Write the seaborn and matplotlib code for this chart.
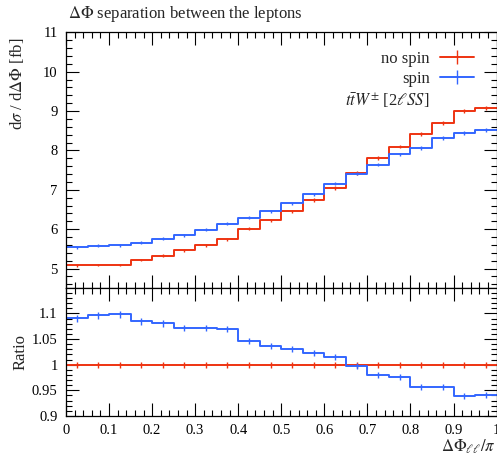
import numpy as np
import pandas as pd
import matplotlib
matplotlib.use("Agg")
import matplotlib.pyplot as plt
import seaborn as sns
from matplotlib.ticker import MultipleLocator, FuncFormatter
from matplotlib.lines import Line2D

# Binning in Delta Phi_ll / pi
bin_edges = [0.00, 0.05, 0.10, 0.15, 0.20, 0.25, 0.30, 0.35, 0.40, 0.45, 0.50,
             0.55, 0.60, 0.65, 0.70, 0.75, 0.80, 0.85, 0.90, 0.95, 1.00]

# d sigma / d Delta Phi [fb]
no_spin = [5.08, 5.09, 5.09, 5.22, 5.33, 5.46, 5.59, 5.74, 6.01, 6.23,
           6.46, 6.74, 7.05, 7.43, 7.80, 8.10, 8.43, 8.69, 9.00, 9.07]
spin = [5.54, 5.58, 5.59, 5.66, 5.76, 5.85, 5.99, 6.14, 6.29, 6.46,
        6.66, 6.89, 7.16, 7.41, 7.64, 7.90, 8.07, 8.31, 8.45, 8.53]

# relative statistical uncertainties per bin
rel_err_no_spin = [0.006, 0.006, 0.006, 0.006, 0.006, 0.006, 0.006, 0.006, 0.006, 0.006,
                   0.006, 0.006, 0.006, 0.006, 0.006, 0.006, 0.006, 0.006, 0.006, 0.006]
rel_err_spin = [0.006, 0.006, 0.006, 0.006, 0.006, 0.006, 0.006, 0.006, 0.006, 0.006,
                0.006, 0.006, 0.006, 0.006, 0.006, 0.006, 0.006, 0.006, 0.006, 0.006]

series_labels = ["no spin", "spin"]
process_label = r"$t\bar{t}W^{\pm}$ [2$\ell SS$]"
title_text = r"$\Delta\Phi$ separation between the leptons"

RED = "#EE3311"
BLUE = "#3366FF"

sns.set_style("ticks")
plt.rcParams["font.family"] = ["Liberation Serif", "DejaVu Serif"]
plt.rcParams["mathtext.fontset"] = "stix"
plt.rcParams["axes.linewidth"] = 0.9

edges = np.array(bin_edges)
centers = 0.5 * (edges[:-1] + edges[1:])
df = pd.DataFrame({
    "center": centers,
    "no_spin": no_spin,
    "spin": spin,
})
df["ratio_no_spin"] = df["no_spin"] / df["no_spin"]
df["ratio_spin"] = df["spin"] / df["no_spin"]
df["err_no_spin"] = df["no_spin"] * np.array(rel_err_no_spin)
df["err_spin"] = df["spin"] * np.array(rel_err_spin)

W, H = 497, 455
fig = plt.figure(figsize=(W / 100, H / 100), dpi=100)
left, right = 66 / W, 496.6 / W
y_top, y_mid, y_bot = 32.3, 288.3, 416.0
ax = fig.add_axes([left, 1 - y_mid / H, right - left, (y_mid - y_top) / H])
axr = fig.add_axes([left, 1 - y_bot / H, right - left, (y_bot - y_mid) / H], sharex=ax)

LW = 1.4
for col, color in (("no_spin", RED), ("spin", BLUE)):
    sns.histplot(x=df["center"], weights=df[col], bins=bin_edges, element="step",
                 fill=False, color=color, lw=LW, ax=ax)
    ax.errorbar(df["center"], df[col], yerr=df["err_" + col], fmt="none",
                ecolor=color, elinewidth=1.0, capsize=0)

for col, rel, color in (("ratio_no_spin", rel_err_no_spin, RED),
                        ("ratio_spin", rel_err_spin, BLUE)):
    sns.histplot(x=df["center"], weights=df[col], bins=bin_edges, element="step",
                 fill=False, color=color, lw=LW, ax=axr)
    axr.errorbar(df["center"], df[col], yerr=df[col] * np.array(rel), fmt="none",
                 ecolor=color, elinewidth=1.0, capsize=0)

fmt2 = FuncFormatter(lambda v, p: f"{round(v, 4):g}")

ax.set_xlim(0, 1)
ax.set_ylim(4.5, 11)
axr.set_ylim(0.9, 1.149)

for a in (ax, axr):
    a.xaxis.set_major_locator(MultipleLocator(0.1))
    a.xaxis.set_minor_locator(MultipleLocator(0.02))
    a.tick_params(which="both", direction="in", top=True, right=True,
                  width=0.8, labelsize=10.5, colors="black")
    a.tick_params(which="major", length=9.5)
    a.tick_params(which="minor", length=4.5)
    for s in a.spines.values():
        s.set_visible(True)
        s.set_color("black")
    a.set_xlabel("")
    a.set_ylabel("")

ax.yaxis.set_major_locator(MultipleLocator(1))
ax.yaxis.set_minor_locator(MultipleLocator(0.2))
ax.yaxis.set_major_formatter(fmt2)
ax.tick_params(labelbottom=False)

axr.yaxis.set_major_locator(MultipleLocator(0.05))
axr.yaxis.set_minor_locator(MultipleLocator(0.01))
axr.yaxis.set_major_formatter(fmt2)
axr.xaxis.set_major_formatter(fmt2)
axr.tick_params(axis="x", pad=6)
axr.tick_params(axis="y", pad=6)
ax.tick_params(axis="y", pad=6)

ax.set_ylabel(r"d$\sigma$ / d$\Delta\Phi$ [fb]", fontsize=12, loc="top")
ax.yaxis.set_label_coords(-0.093, 0.978)
axr.set_ylabel("Ratio", fontsize=12)
axr.yaxis.set_label_coords(-0.087, 0.5)
axr.set_xlabel(r"$\Delta\Phi_{\ell\ell}/\pi$", fontsize=12, loc="right")
axr.xaxis.set_label_coords(0.998, -0.17)

fig.text(68 / W, 1 - 18 / H, title_text, fontsize=12, ha="left", va="baseline")

handles = [
    Line2D([], [], color=RED, lw=LW, marker="|", markersize=9.5, markeredgewidth=1.0),
    Line2D([], [], color=BLUE, lw=LW, marker="|", markersize=9.5, markeredgewidth=1.0),
    Line2D([], [], color="none", lw=0),
]
leg = ax.legend(handles, series_labels + [process_label], loc="upper right",
                bbox_to_anchor=(0.947, 0.928), frameon=False, markerfirst=False,
                numpoints=1, fontsize=12, handlelength=2.05, handletextpad=0.6,
                labelspacing=0.25, borderaxespad=0, borderpad=0)

fig.savefig("out.png", dpi=100)
